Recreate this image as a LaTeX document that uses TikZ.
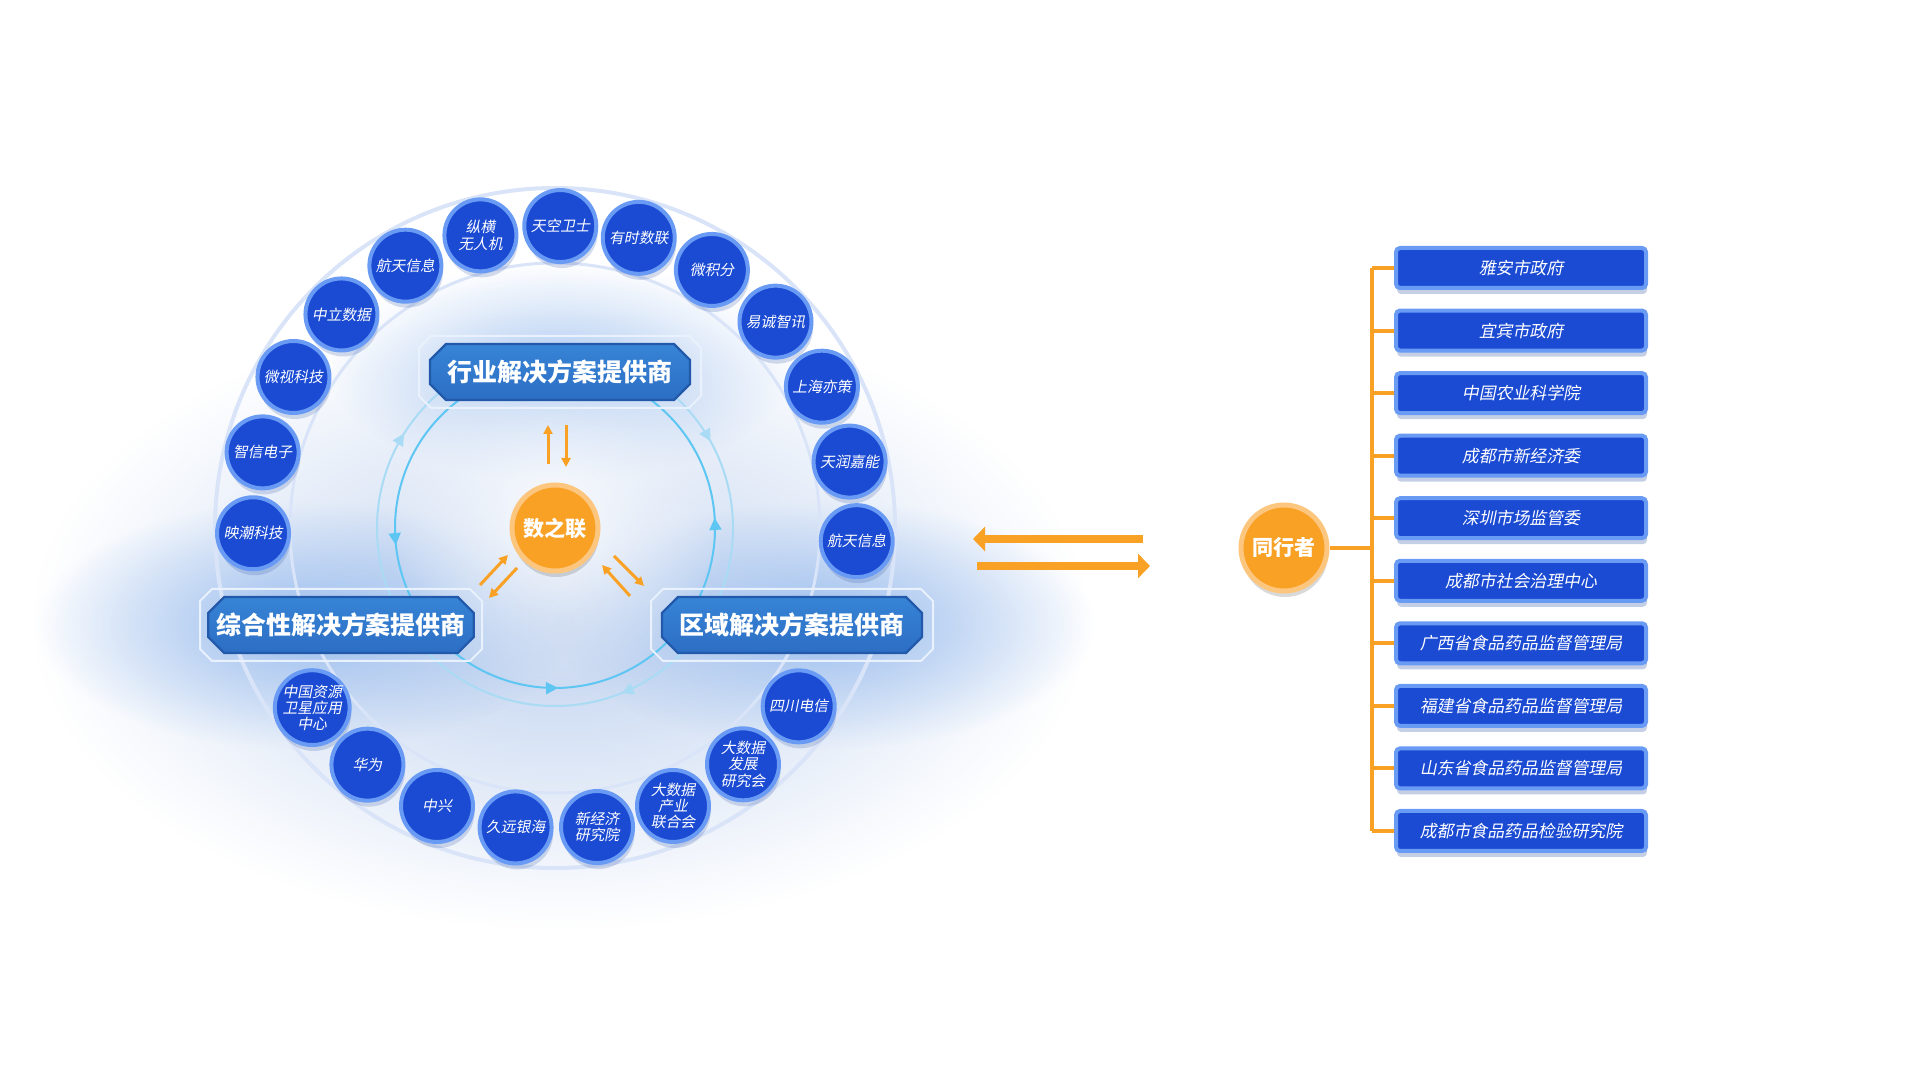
\documentclass[tikz,border=0pt]{standalone}
\usepackage{fontspec}
\newfontfamily\cjk{Noto Sans CJK SC}
\newfontfamily\cjkit[FakeSlant=0.2]{Noto Sans CJK SC}
\usetikzlibrary{arrows.meta,shapes.misc,shadows,fadings,decorations.markings}
\definecolor{ballblue}{HTML}{1B4BD3}
\definecolor{ballrim}{HTML}{6A9BF4}
\definecolor{hotorange}{HTML}{F9A125}
\definecolor{orangerim}{HTML}{FDC67E}
\definecolor{hdtop}{HTML}{3784D6}
\definecolor{hdbot}{HTML}{2C6EC4}
\definecolor{hdrim}{HTML}{2359AA}
\definecolor{framec}{HTML}{E8F1FC}
\definecolor{ringblue}{HTML}{DAE4F8}
\definecolor{cyanring}{HTML}{5EC6F3}
\definecolor{paleringc}{HTML}{A9DBF4}
\definecolor{glowblue}{HTML}{C0D2EF}
\definecolor{hdglow}{HTML}{9DBFEE}
\definecolor{shadowblue}{HTML}{3D5FA8}
\tikzfading[name=glowfade, inner color=transparent!0, outer color=transparent!100]
\newcommand{\hdframe}[1]{\draw[framec, line width=0.1cm] ([shift={(-129,36)}]#1.center) -- ([shift={(129,36)}]#1.center) -- ([shift={(141,24)}]#1.center) -- ([shift={(141,-24)}]#1.center) -- ([shift={(129,-36)}]#1.center) -- ([shift={(-129,-36)}]#1.center) -- ([shift={(-141,-24)}]#1.center) -- ([shift={(-141,24)}]#1.center) -- cycle;}

\begin{document}
\begin{tikzpicture}[x=0.05cm, y=0.05cm,
    ball/.style={circle, fill=ballblue, draw=ballrim, line width=0.2cm, minimum size=3.6cm, inner sep=0pt, align=center, text=white, font=\cjkit\fontsize{21}{23}\selectfont, drop shadow={shadow xshift=0.08cm, shadow yshift=-0.3cm, opacity=0.22, fill=shadowblue}},
    hub/.style={circle, fill=hotorange, draw=orangerim, line width=0.25cm, minimum size=4.3cm, inner sep=0pt, text=white, font=\cjk\bfseries\fontsize{30}{30}\selectfont, drop shadow={shadow xshift=0.05cm, shadow yshift=-0.3cm, opacity=0.25, fill=black!60}},
    header/.style={chamfered rectangle, chamfered rectangle xsep=0.4cm, chamfered rectangle ysep=0.4cm, top color=hdtop, bottom color=hdbot, draw=hdrim, line width=0.12cm, minimum width=13cm, minimum height=2.8cm, inner sep=0pt, text=white, font=\cjk\bfseries\fontsize{35.5}{35.5}\selectfont},
    member/.style={rectangle, rounded corners=0.2cm, fill=ballblue, draw=ballrim, line width=0.2cm, minimum width=12.5cm, minimum height=2cm, text=white, font=\cjkit\fontsize{24}{24}\selectfont, drop shadow={shadow xshift=0.05cm, shadow yshift=-0.3cm, opacity=0.3, fill=shadowblue}},
    branch/.style={draw=hotorange, line width=0.2cm},
    bigarrow/.style={hotorange, line width=0.4cm, -{Triangle[length=0.6cm,width=1.2cm]}},
    smallarrow/.style={hotorange, line width=0.15cm, -{Triangle[length=0.45cm,width=0.45cm]}},
    brightloop/.style={draw=cyanring, line width=0.1cm, postaction=decorate, decoration={markings,
        mark=at position 0.01 with {\arrow{Triangle[length=0.6cm,width=0.6cm]}},
        mark=at position 0.517 with {\arrow{Triangle[length=0.6cm,width=0.6cm]}},
        mark=at position 0.753 with {\arrow{Triangle[length=0.6cm,width=0.6cm]}}}},
    paleloop/.style={draw=paleringc, line width=0.1cm, postaction=decorate, decoration={markings,
        mark=at position 0.189 with {\arrow{Triangle[length=0.6cm,width=0.6cm]}},
        mark=at position 0.589 with {\arrow{Triangle[length=0.6cm,width=0.6cm]}},
        mark=at position 0.919 with {\arrow{Triangle[length=0.6cm,width=0.6cm]}}}},
    ]
    \useasboundingbox (0,0) rectangle (1920,1080);
    \fill[glowblue, path fading=glowfade] (560,460) ellipse [x radius=530, y radius=310];
    \fill[hdglow, path fading=glowfade, opacity=0.8] (560,708) ellipse [x radius=230, y radius=110];
    \fill[hdglow, path fading=glowfade] (305,455) ellipse [x radius=270, y radius=125];
    \fill[hdglow, path fading=glowfade] (825,455) ellipse [x radius=270, y radius=125];
    \fill[white, path fading=glowfade, opacity=0.85] (555,560) circle[radius=170];
    \coordinate (c) at (555,552);
    \draw[ringblue, line width=0.2cm] (c) circle[radius=340];
    \draw[ringblue, line width=0.15cm] (c) circle[radius=265];
    \draw[brightloop] (c) circle[radius=160];
    \draw[paleloop] (c) ++(0:178) arc[start angle=0, end angle=-360, radius=178];
    \begin{scope}[shift={(c)}]
        \node[ball] (t1) at (181:302) {映潮科技};
        \node[ball] (t2) at (165.5:302) {智信电子};
        \node[ball] (t3) at (150:302) {微视科技};
        \node[ball] (t4) at (135:302) {中立数据};
        \node[ball] (t5) at (119.7:302) {航天信息};
        \node[ball] (t6) at (104.3:302) {纵横\\无人机};
        \node[ball] (t7) at (89:302) {天空卫士};
        \node[ball] (t8) at (73.9:302) {有时数联};
        \node[ball] (t9) at (58.7:302) {微积分};
        \node[ball] (t10) at (43.1:302) {易诚智讯};
        \node[ball] (t11) at (27.9:302) {上海亦策};
        \node[ball] (t12) at (12.7:302) {天润嘉能};
        \node[ball] (t13) at (-2.5:302) {航天信息};
        \node[ball] (b1) at (216.5:302) {中国资源\\卫星应用\\中心};
        \node[ball] (b2) at (231.6:302) {华为};
        \node[ball] (b3) at (247:302) {中兴};
        \node[ball] (b4) at (262.5:302) {久远银海};
        \node[ball] (b5) at (278:302) {新经济\\研究院};
        \node[ball] (b6) at (293:302) {大数据\\产业\\联合会};
        \node[ball] (b7) at (308.5:302) {大数据\\发展\\研究会};
        \node[ball] (b8) at (323.8:302) {四川电信};
    \end{scope}
    \node[header] (hy) at (560,708) {行业解决方案提供商};
    \hdframe{hy}
    \node[header] (zh) at (341,455) {综合性解决方案提供商};
    \hdframe{zh}
    \node[header] (qy) at (792,455) {区域解决方案提供商};
    \hdframe{qy}
    \node[hub] (szl) at (c) {数之联};
    \draw[smallarrow] ([shift={(-7,64)}]szl.center) -- ([shift={(-7,103)}]szl.center);
    \draw[smallarrow] ([shift={(11,103)}]szl.center) -- ([shift={(11,61)}]szl.center);
    \draw[smallarrow] ([shift={(-75,-57)}]szl.center) -- ([shift={(-47,-27)}]szl.center);
    \draw[smallarrow] ([shift={(-38,-40)}]szl.center) -- ([shift={(-66,-70)}]szl.center);
    \draw[smallarrow] ([shift={(75,-68)}]szl.center) -- ([shift={(47,-37)}]szl.center);
    \draw[smallarrow] ([shift={(59,-28)}]szl.center) -- ([shift={(89,-58)}]szl.center);
    \node[hub] (txz) at (1284,532) {同行者};
    \draw[bigarrow] ([shift={(-141,9)}]txz.center) -- ([shift={(-311,9)}]txz.center);
    \draw[bigarrow] ([shift={(-307,-18)}]txz.center) -- ([shift={(-134,-18)}]txz.center);
    \node[member] (p1) at (1521,812) {雅安市政府};
    \node[member] (p2) at (1521,749.4) {宜宾市政府};
    \node[member] (p3) at (1521,686.9) {中国农业科学院};
    \node[member] (p4) at (1521,624.3) {成都市新经济委};
    \node[member] (p5) at (1521,561.8) {深圳市场监管委};
    \node[member] (p6) at (1521,499.2) {成都市社会治理中心};
    \node[member] (p7) at (1521,436.7) {广西省食品药品监督管理局};
    \node[member] (p8) at (1521,374.1) {福建省食品药品监督管理局};
    \node[member] (p9) at (1521,311.6) {山东省食品药品监督管理局};
    \node[member] (p10) at (1521,249) {成都市食品药品检验研究院};
    \coordinate (tr) at (1372,532);
    \draw[branch] (txz.east) -- (tr);
    \draw[branch] (p1.west -| tr) -- (p10.west -| tr);
    \draw[branch] (p1.west -| tr) -- (p1.west);
    \draw[branch] (p2.west -| tr) -- (p2.west);
    \draw[branch] (p3.west -| tr) -- (p3.west);
    \draw[branch] (p4.west -| tr) -- (p4.west);
    \draw[branch] (p5.west -| tr) -- (p5.west);
    \draw[branch] (p6.west -| tr) -- (p6.west);
    \draw[branch] (p7.west -| tr) -- (p7.west);
    \draw[branch] (p8.west -| tr) -- (p8.west);
    \draw[branch] (p9.west -| tr) -- (p9.west);
    \draw[branch] (p10.west -| tr) -- (p10.west);
\end{tikzpicture}
\end{document}
